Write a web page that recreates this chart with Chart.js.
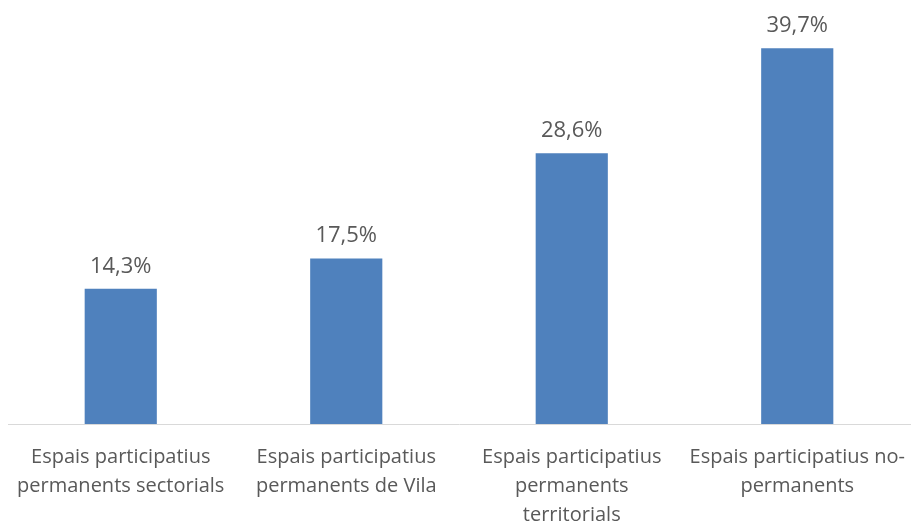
<!DOCTYPE html>
<html lang="ca">
<head>
    <meta charset="UTF-8">
    <title>Espais participatius</title>
    <script src="https://cdn.jsdelivr.net/npm/chart.js"></script>
    <style>
        body {
            margin: 0;
            padding: 0;
            background-color: #fff;
        }
        #chart-container {
            width: 912px;
            height: 523px;
        }
    </style>
</head>
<body>
    <div id="chart-container">
        <canvas id="bar-chart"></canvas>
    </div>

    <script>
        const categories = [
            ['Espais participatius', 'permanents sectorials'],
            ['Espais participatius', 'permanents de Vila'],
            ['Espais participatius', 'permanents', 'territorials'],
            ['Espais participatius no-', 'permanents']
        ];
        const percentages = [14.3, 17.5, 28.6, 39.7];

        // Percentage labels above each bar, comma decimal like the original
        const barLabels = {
            id: 'barLabels',
            afterDatasetsDraw(chart) {
                const ctx = chart.ctx;
                const meta = chart.getDatasetMeta(0);
                ctx.save();
                ctx.font = '22px "Open Sans"';
                ctx.fillStyle = '#595959';
                ctx.textAlign = 'center';
                ctx.textBaseline = 'alphabetic';
                meta.data.forEach((bar, i) => {
                    const text = percentages[i].toFixed(1).replace('.', ',') + '%';
                    ctx.fillText(text, bar.x, bar.y - 16);
                });
                ctx.restore();
            }
        };

        const ctx = document.getElementById('bar-chart').getContext('2d');
        new Chart(ctx, {
            type: 'bar',
            data: {
                labels: categories,
                datasets: [{
                    data: percentages,
                    backgroundColor: '#4F81BD',
                    borderWidth: 0,
                    categoryPercentage: 1,
                    barPercentage: 0.32
                }]
            },
            options: {
                responsive: true,
                maintainAspectRatio: false,
                animation: false,
                layout: {
                    padding: { left: 8, right: 2, top: 0, bottom: 0 }
                },
                plugins: {
                    legend: { display: false },
                    tooltip: { enabled: false }
                },
                scales: {
                    x: {
                        grid: { display: false },
                        border: { display: true, color: '#D9D9D9', width: 1 },
                        ticks: {
                            color: '#595959',
                            font: { family: 'Open Sans', size: 20, lineHeight: 1.45 },
                            padding: 11,
                            maxRotation: 0,
                            autoSkip: false
                        },
                        afterFit(scale) {
                            // fixed band for the labels, and let the long last label overhang
                            scale.height = 99;
                            scale.paddingLeft = 0;
                            scale.paddingRight = 0;
                        }
                    },
                    y: {
                        display: false,
                        min: 0,
                        max: 44.8
                    }
                }
            },
            plugins: [barLabels]
        });
    </script>
</body>
</html>
